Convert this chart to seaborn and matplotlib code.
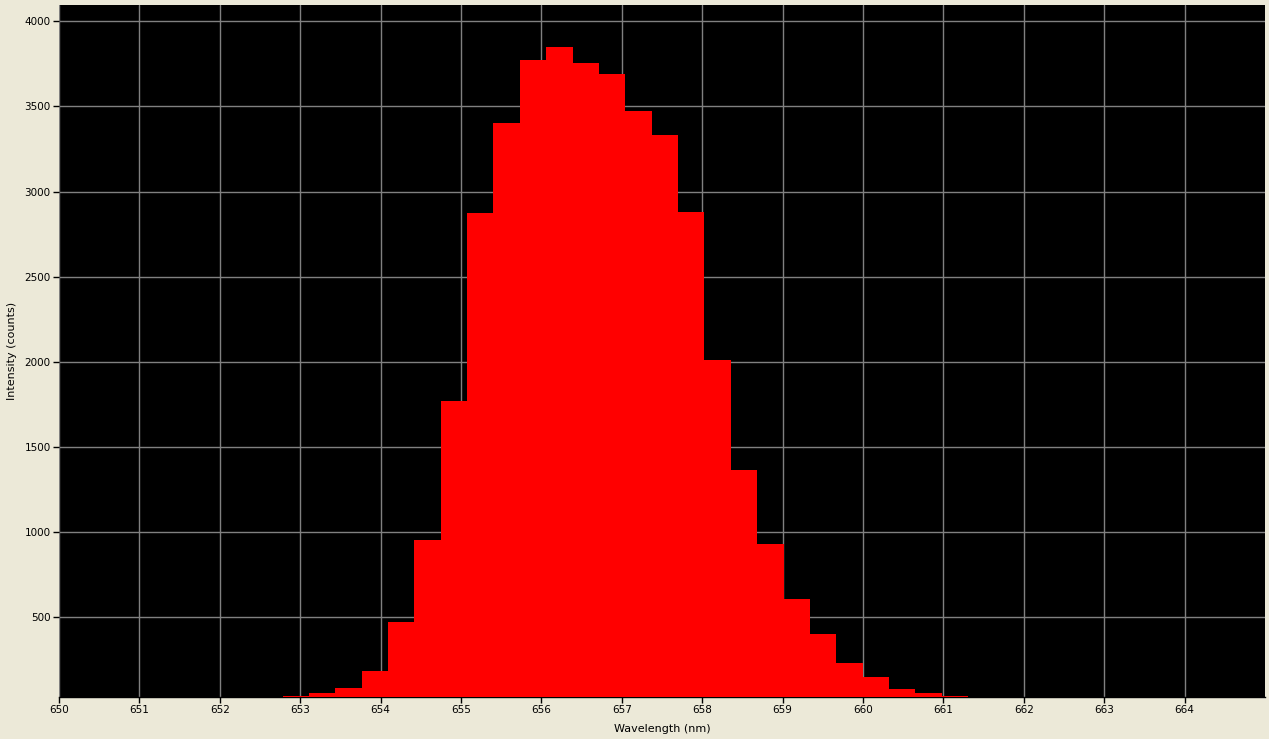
import numpy as np
import pandas as pd
import matplotlib
matplotlib.use("Agg")
import matplotlib.pyplot as plt
import seaborn as sns

# Data
bin_start = 652.78      # nm, left edge of first bin
bin_width = 0.328       # nm
counts = [37, 55, 84, 184, 472, 955, 1767, 2874, 3402, 3772, 3849, 3755, 3690,
          3472, 3331, 2878, 2008, 1361, 931, 608, 402, 231, 149, 78, 55, 37]
x_ticks = list(range(650, 665))
y_ticks = [500, 1000, 1500, 2000, 2500, 3000, 3500, 4000]
x_label = "Wavelength (nm)"
y_label = "Intensity (counts)"

edges = [float(bin_start + bin_width * i) for i in range(len(counts) + 1)]
centers = [(edges[i] + edges[i + 1]) / 2 for i in range(len(counts))]
df = pd.DataFrame({"wavelength": centers, "counts": counts})

sns.set_theme(style="white")
plt.rcParams["font.family"] = ["DejaVu Sans"]

bg = "#ECE9D8"
fig = plt.figure(figsize=(12.69, 7.39), dpi=100, facecolor=bg)
ax = fig.add_axes([59 / 1269, 1 - 697 / 739, (1265 - 59) / 1269, (697 - 5) / 739])
ax.set_facecolor("black")

sns.histplot(data=df, x="wavelength", weights="counts", bins=edges,
             color="#FF0000", alpha=1.0, linewidth=0, ax=ax, zorder=3)

ax.set_xlim(650, 665)
ax.set_ylim(30, 4096)
ax.set_xticks(x_ticks)
ax.set_yticks(y_ticks)
ax.grid(True, color="#808080", linewidth=1.0, zorder=0)
ax.set_axisbelow(True)
for s in ax.spines.values():
    s.set_visible(False)
ax.spines["bottom"].set_visible(True)
ax.spines["bottom"].set_color("black")
ax.spines["bottom"].set_linewidth(1.0)

ax.tick_params(axis="both", direction="out", length=4, width=1, color="black",
               labelsize=7.5, labelcolor="black", pad=2, bottom=True, left=True)
ax.set_xlabel(x_label, fontsize=8, color="black", labelpad=6)
ax.set_ylabel(y_label, fontsize=8, color="black", labelpad=5)

fig.savefig("out.png", dpi=100, facecolor=bg)
